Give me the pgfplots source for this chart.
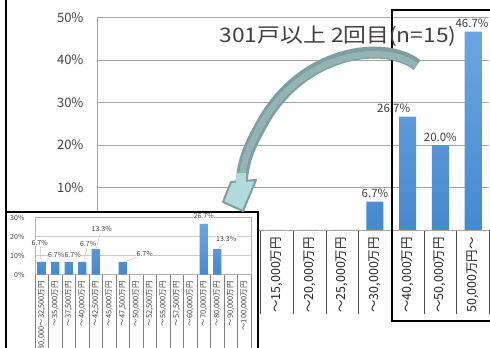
\documentclass[border=0pt]{standalone}
\usepackage{fontspec}
\setmainfont{Noto Sans CJK JP}
\usepackage{pgfplots}
\pgfplotsset{compat=1.18}
\usepackage{pgfplotstable}
\usetikzlibrary{arrows.meta}

\definecolor{gridc}{HTML}{A6A6A6}
\definecolor{txt}{HTML}{404040}
\definecolor{bartop}{HTML}{6CA6E0}
\definecolor{barbot}{HTML}{4689D0}
\definecolor{arrdark}{HTML}{7E9E9F}
\definecolor{arrmid}{HTML}{93B3B4}
\definecolor{arrlight}{HTML}{B3DADC}

\pgfplotstableread{
x y lab dx
0 0 - 0
1 0 - 0
2 0 - 0
3 0 - 0
4 0 - 0
5 0 - 0
6 0 - 0
7 0 - 0
8 6.7 6.7\% 0
9 26.7 26.7\% -14
10 20.0 20.0\% 0
11 46.7 46.7\% -1
}\maindata

\pgfplotstableread{
x y lab dx dy
0 6.7 6.7\% -2 19
1 6.7 6.7\% 1 7
2 6.7 6.7\% 4 7
3 6.7 6.7\% 6 18
4 13.3 13.3\% 6 20
5 0 - 0 0
6 6.7 6.7\% 22 8
7 0 - 0 0
8 0 - 0 0
9 0 - 0 0
10 0 - 0 0
11 0 - 0 0
12 26.7 26.7\% 0 8
13 13.3 13.3\% 9 10
14 0 - 0 0
15 0 - 0 0
}\insetdata

\begin{document}
\begin{tikzpicture}[x=1pt,y=1pt]
\useasboundingbox (0,0) rectangle (490,348);
\clip (0,0) rectangle (490,348);
\fill[white] (0,0) rectangle (490,348);
% main chart
\begin{axis}[
  at={(97pt,118pt)}, anchor=south west,
  scale only axis, width=392.4pt, height=212.5pt,
  xmin=-0.5, xmax=11.5, ymin=0, ymax=50,
  ybar, bar width=17pt, bar shift=0pt,
  axis lines*=left,
  axis line style={gridc, line width=0.8pt},
  ytick={0,10,20,30,40,50},
  yticklabel={\pgfmathprintnumber{\tick}\%},
  ymajorgrids, grid style={gridc, line width=0.9pt},
  xtick={0,...,11},
  xticklabels={{～3,000万円},{～5,000万円},{～7,500万円},{～10,000万円},{～12,500万円},{～15,000万円},{～20,000万円},{～25,000万円},{～30,000万円},{～40,000万円},{～50,000万円},{50,000万円～}},
  major tick length=0pt,
  minor xtick={-0.5,0.5,...,11.5},
  minor tick length=84pt, tick align=outside,
  minor x tick style={black!70, line width=0.6pt},
  xticklabel style={rotate=90, anchor=east, font=\fontsize{12.5}{13}\selectfont, text=black!85},
  xticklabel shift=3.5pt,
  yticklabel style={font=\fontsize{13}{14}\selectfont, text=txt},
  yticklabel shift=10pt,
  /pgf/number format/assume math mode=true,
]
\addplot[draw=none, top color=bartop, bottom color=barbot] table[x=x,y=y]{\maindata};
\addplot[draw=none, fill=none, restrict y to domain=1:100,
  point meta=explicit symbolic,
  visualization depends on={\thisrow{dx}\as\dx},
  nodes near coords,
  every node near coord/.append style={font=\fontsize{11.5}{12}\selectfont, text=txt, fill=white, inner sep=1.5pt, anchor=south, xshift=\dx pt, yshift=2pt}
] table[x=x,y=y,meta=lab]{\maindata};
\end{axis}
% black frame around right part
\draw[line width=2pt] (495,338) -- (392,338) -- (392,27) -- (495,27);
% left line
\draw[line width=2pt] (6,-5) -- (6,353);
% inset box
\fill[white] (6,136) rectangle (258,-5);
\draw[line width=2pt] (6,-5) -- (6,136) -- (258,136) -- (258,-5);
\begin{axis}[
  at={(35pt,73.5pt)}, anchor=south west,
  scale only axis, width=216pt, height=57pt,
  xmin=-0.5, xmax=15.5, ymin=0, ymax=30,
  ybar, bar width=8.3pt, bar shift=0pt,
  axis line style={black!30, line width=0.5pt},
  xtick pos=lower, ytick pos=left,
  ytick={0,10,20,30},
  yticklabel={\pgfmathprintnumber{\tick}\%},
  ymajorgrids, grid style={black!20, line width=0.5pt},
  xtick={0,...,15},
  xticklabels={{30,000～32,500万円},{～35,000万円},{～37,500万円},{～40,000万円},{～42,500万円},{～45,000万円},{～47,500万円},{～50,000万円},{～52,500万円},{～55,000万円},{～57,500万円},{～60,000万円},{～70,000万円},{～80,000万円},{～90,000万円},{～100,000万円}},
  major tick length=0pt,
  minor xtick={-0.5,0.5,...,15.5},
  minor tick length=80pt, tick align=outside,
  minor x tick style={black!50, line width=0.5pt},
  xticklabel style={rotate=90, anchor=east, font=\fontsize{7.5}{8}\selectfont, text=txt},
  xticklabel shift=3pt,
  yticklabel style={font=\fontsize{7}{8}\selectfont, text=txt},
  yticklabel shift=7pt,
  /pgf/number format/assume math mode=true,
]
\addplot[draw=none, top color=bartop, bottom color=barbot] table[x=x,y=y]{\insetdata};
% leader lines of the data labels
\draw[black!25, line width=0.4pt] (axis cs:-0.05,6.7) -- (axis cs:-0.1,14.5);
\draw[black!25, line width=0.4pt] (axis cs:3.1,6.7) -- (axis cs:3.35,14.0);
\draw[black!25, line width=0.4pt] (axis cs:4.0,13.3) -- (axis cs:4.3,21.0);
\draw[black!25, line width=0.4pt] (axis cs:6.1,6.7) -- (axis cs:7.2,9.5);
\draw[black!25, line width=0.4pt] (axis cs:13.05,13.3) -- (axis cs:13.45,16.0);
\addplot[draw=none, fill=none, restrict y to domain=1:100,
  point meta=explicit symbolic,
  visualization depends on={\thisrow{dx}\as\dx},
  visualization depends on={\thisrow{dy}\as\dy},
  nodes near coords,
  every node near coord/.append style={font=\fontsize{7}{8}\selectfont, text=txt, fill=white, inner sep=0.5pt, anchor=center, xshift=\dx pt, yshift=\dy pt}
] table[x=x,y=y,meta=lab]{\insetdata};
\end{axis}
% title
\node[font=\fontsize{20}{22}\selectfont, text=txt, anchor=west] at (216,312) {\scalebox{1.14}[1]{301戸以上 2回目(n=15)}};
% curved arrow
\draw[line width=12pt, arrdark] (417,283) .. controls (385,308) and (305,298) .. (264,228) .. controls (250,203) and (243,190) .. (241,160);
\draw[line width=6.5pt, arrmid] (416,282) .. controls (385,306) and (305,296) .. (264,228) .. controls (250,203) and (243,190) .. (241,162);
\filldraw[fill=arrlight, draw=arrdark, line width=2pt, line join=round] (223,146) -- (231,166) -- (256,168) -- (243,137) -- cycle;
\fill[arrlight] (236,175) -- (246,175) -- (246,162) -- (236,162) -- cycle;
\end{tikzpicture}
\end{document}
